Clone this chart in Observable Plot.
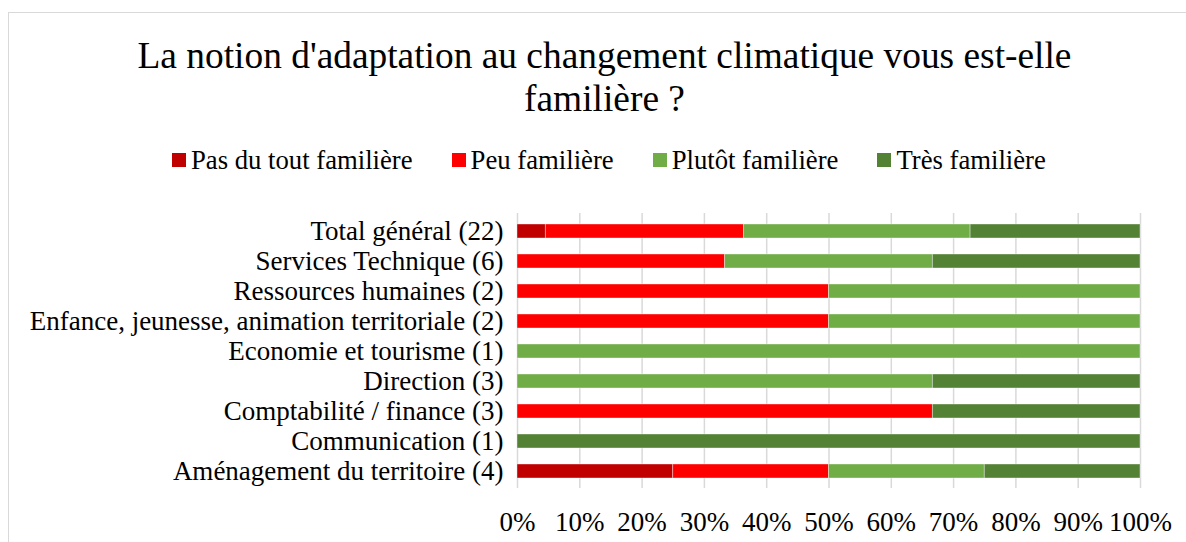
<!DOCTYPE html>
<html>
<head>
<meta charset="utf-8">
<script src="https://cdn.jsdelivr.net/npm/d3@7"></script>
<script src="https://cdn.jsdelivr.net/npm/@observablehq/plot@0.6"></script>
<style>
  html, body { margin: 0; padding: 0; background: #fff; overflow: hidden; width: 1186px; height: 542px; }
  body { position: relative; font-family: "Liberation Serif", "Times New Roman", serif; color: #000; }
  #frame { position: absolute; left: 8px; top: 12px; width: 1300px; height: 700px; border: 1px solid #d9d9d9; box-sizing: border-box; }
  #title { position: absolute; left: 0; top: 34px; width: 1209px; text-align: center; font-size: 37.4px; line-height: 43px; }
  #legend { position: absolute; left: 172px; top: 147px; display: flex; gap: 39px; font-size: 26.7px; line-height: 26px; white-space: nowrap; }
  .item { display: flex; align-items: center; }
  .sw { width: 14px; height: 14px; margin-right: 5px; }
  #chart { position: absolute; left: 0; top: 190px; }
</style>
</head>
<body>
<div id="frame"></div>
<div id="title">La notion d'adaptation au changement climatique vous est-elle<br>familière ?</div>
<div id="legend"></div>
<div id="chart"></div>
<script>
const categories = [
  "Total général (22)",
  "Services Technique (6)",
  "Ressources humaines (2)",
  "Enfance, jeunesse, animation territoriale (2)",
  "Economie et tourisme (1)",
  "Direction (3)",
  "Comptabilité / finance (3)",
  "Communication (1)",
  "Aménagement du territoire (4)"
];
const levels = ["Pas du tout familière", "Peu familière", "Plutôt familière", "Très familière"];
const colors = ["#C00000", "#FF0000", "#70AD47", "#548235"];
// respondent counts per category, one array per series
const pasDuTout = [1, 0, 0, 0, 0, 0, 0, 0, 1];
const peu       = [7, 2, 1, 1, 0, 0, 2, 0, 1];
const plutot    = [8, 2, 1, 1, 1, 2, 0, 0, 1];
const tres      = [6, 2, 0, 0, 0, 1, 1, 1, 1];
const xTicks = [0, 0.1, 0.2, 0.3, 0.4, 0.5, 0.6, 0.7, 0.8, 0.9, 1];
const xTickLabels = ["0%", "10%", "20%", "30%", "40%", "50%", "60%", "70%", "80%", "90%", "100%"];

const series = [pasDuTout, peu, plutot, tres];
const rows = [];
categories.forEach((cat, i) => {
  series.forEach((s, j) => {
    if (s[i] > 0) rows.push({cat, level: levels[j], count: s[i]});
  });
});

// legend
const legend = document.getElementById("legend");
levels.forEach((l, j) => {
  const it = document.createElement("div");
  it.className = "item";
  const sw = document.createElement("span");
  sw.className = "sw";
  sw.style.background = colors[j];
  const tx = document.createElement("span");
  tx.textContent = l;
  it.appendChild(sw); it.appendChild(tx);
  legend.appendChild(it);
});

const chart = Plot.plot({
  width: 1186,
  height: 352,
  marginTop: 23,
  marginBottom: 54,
  marginLeft: 517,
  marginRight: 46,
  style: {fontFamily: "'Liberation Serif', 'Times New Roman', serif", fontSize: "27px", color: "#000", background: "transparent"},
  x: {domain: [0, 1]},
  y: {domain: categories, paddingInner: 0.54, paddingOuter: 0.27},
  color: {domain: levels, range: colors},
  marks: [
    Plot.gridX(xTicks, {stroke: "#d9d9d9", strokeOpacity: 1, strokeWidth: 1.5}),
    Plot.barX(rows, Plot.stackX({x: "count", y: "cat", fill: "level", offset: "normalize", order: levels, stroke: "#fff", strokeWidth: 0.75, strokeOpacity: 0.5})),
    Plot.axisX(xTicks, {tickSize: 0, tickPadding: 23, tickFormat: (d, i) => xTickLabels[i], label: null, fontSize: 27}),
    Plot.axisY({tickSize: 0, tickPadding: 14, label: null, fontSize: 27})
  ]
});
document.getElementById("chart").appendChild(chart);
</script>
</body>
</html>
